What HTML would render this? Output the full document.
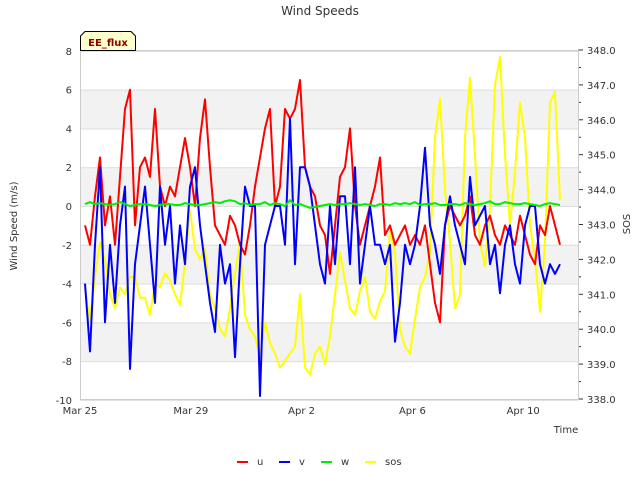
<!DOCTYPE html>
<html><head><meta charset="utf-8"><style>
body{margin:0;background:#fff;}
svg{display:block;font-family:"DejaVu Sans","Liberation Sans",sans-serif;}
</style></head><body>
<svg id="chart" width="640" height="480">
<text x="320" y="15" text-anchor="middle" font-size="12" fill="#333">Wind Speeds</text>
<g id="bands"></g>
<g id="axes"></g>
<g id="series"></g>
<rect x="80.5" y="50.5" width="498" height="349" fill="none" stroke="#ccc"/>
<g>
<path d="M80.5,50.5 V36 L85,31.5 H131 L135.5,36 V50.5 Z" fill="#ffffcc" stroke="#000"/>
<text x="108" y="46" text-anchor="middle" font-size="10" font-weight="bold" fill="#8b0000">EE_flux</text>
</g>
<text transform="translate(17,226) rotate(-90)" text-anchor="middle" font-size="10" fill="#333">Wind Speed (m/s)</text>
<text transform="translate(630,224) rotate(-90)" text-anchor="middle" font-size="10" fill="#333">SOS</text>
<text x="566" y="433" text-anchor="middle" font-size="10" fill="#333">Time</text>
<g id="legend"></g>
</svg>
<script>
const xTickLabels=["Mar 25","Mar 29","Apr 2","Apr 6","Apr 10"];
const xTickDays=[0,4,8,12,16];
const yTicks=[-10,-8,-6,-4,-2,0,2,4,6,8];
const y2Ticks=[338,339,340,341,342,343,344,345,346,347,348];
const startDay=0.18;
const stepDay=0.1805;
const uVals=[-1,-2,0.5,2.5,-1,0.5,-2,1.5,5,6,-1,2,2.5,1.5,5,1,0,1,0.5,2,3.5,2,0,3.5,5.5,2,-1,-1.5,-2,-0.5,-1,-2,-2.5,-1,1,2.5,4,5,0,1,5,4.5,5,6.5,2,1,0.5,-1,-1.5,-3.5,-1,1.5,2,4,0,-2,-1,0,1,2.5,-1.5,-1,-2,-1.5,-1,-2,-1.5,-2,-1,-3,-5,-6,-1,0,-0.5,-1,-0.5,0.5,-1.5,-2,-1,-0.5,-1.5,-2,-1,-1.5,-2,-0.5,-1.5,-2.5,-3,-1,-1.5,0,-1,-2];
const vVals=[-4,-7.5,-2,2,-6,-2,-5,-1,1,-8.4,-3,-1,1,-2,-5,1,-2,0,-4,-1,-3,1,2,-1,-3,-5,-6.5,-2,-4,-3,-7.8,-3,1,0,0,-9.8,-2,-1,0,0,-2,4.5,-3,2,2,1,-1,-3,-4,0,-3,0.5,0.5,-3,2,-4,-2,0,-2,-2,-3,-2,-7,-5,-2,-3,-2,0,3,-1,-2,-3.5,-1,0.5,-1,-2,-3,1.5,-1,-0.5,0,-3,-2,-4.5,-2,-1,-3,-4,-1,0,0,-3,-4,-3,-3.5,-3];
const wVals=[0.1,0.2,0.1,0.15,0.1,0.05,0.1,0.2,0.1,0,0.05,0.1,0.1,0.05,0,0.05,0.1,0.1,0.05,0.05,0.15,0.1,0.05,0.05,0.1,0.15,0.2,0.15,0.25,0.3,0.25,0.1,0.15,0.05,0.1,0.1,0.2,0.05,0.15,0.1,0,0.3,0.05,0.1,0,-0.1,-0.05,0,0.05,0.1,0.05,0.1,0.1,0.15,0.1,0.05,0.1,0.05,0,0.1,0.1,0.05,0.15,0.1,0.15,0.1,0.2,0.05,0.1,0.1,0.15,0.05,0.05,0.1,0.1,0.05,0.15,0.1,0.05,0.1,0.15,0.25,0.1,0.1,0.2,0.15,0.1,0.1,0.15,0.1,0.05,0,0.1,0.15,0.1,0.05];
const sosVals=[341.2,340.2,341.5,342.5,342.0,341.0,340.6,341.2,341.0,341.5,341.5,340.9,340.9,340.4,341.3,341.2,341.6,341.4,341.0,340.7,341.9,343.4,342.3,342.0,342.3,341.0,340.6,340.0,339.8,340.6,341.6,342.5,340.4,340.0,339.8,339.2,340.2,339.6,339.3,338.9,339.1,339.3,339.5,341.0,338.9,338.7,339.3,339.5,339.0,339.8,341.0,342.2,341.4,340.6,340.4,341.1,341.5,340.5,340.3,340.8,341.1,342.8,342.2,340.0,339.5,339.3,340.3,341.2,341.5,342.2,345.5,346.6,344.0,342.5,340.6,341.0,345.5,347.2,345.0,342.5,341.8,343.5,347.0,347.8,345.0,343.0,344.5,346.5,345.5,343.0,342.0,340.5,342.5,346.5,346.8,343.7];

const NS="http://www.w3.org/2000/svg";
const X0=80,X1=578,PX_DAY=27.7;
const xS=d=>X0+d*PX_DAY;
const yS=v=>206-v*19.39;
const y2S=v=>399-(v-338)*34.9;
function mk(tag,attrs,parent){const e=document.createElementNS(NS,tag);for(const k in attrs)e.setAttribute(k,attrs[k]);parent.appendChild(e);return e;}
const bands=document.getElementById('bands'),axes=document.getElementById('axes'),ser=document.getElementById('series'),leg=document.getElementById('legend');
[[4,6],[0,2],[-4,-2],[-8,-6]].forEach(b=>{const r=mk('rect',{x:X0,y:yS(b[1]),width:X1-X0,height:yS(b[0])-yS(b[1]),fill:'#f2f2f2'},bands);

});
yTicks.forEach(v=>{const l=mk('line',{x1:X0,x2:X1,y1:yS(v)+0.5,y2:yS(v)+0.5,stroke:'#ddd'},bands);


const t=mk('text',{x:72,y:yS(v)+4,'text-anchor':'end','font-size':10,fill:'#333'},axes);t.textContent=v;

});
y2Ticks.forEach(v=>{mk('line',{x1:X1,x2:X1+5,y1:y2S(v),y2:y2S(v),stroke:'#333'},axes);
if(v<348)mk('line',{x1:X1,x2:X1+3,y1:y2S(v+0.5),y2:y2S(v+0.5),stroke:'#333'},axes);
const t=mk('text',{x:587,y:y2S(v)+4,'font-size':10,fill:'#333'},axes);t.textContent=v.toFixed(1);

});
xTickDays.forEach((d,i)=>{const t=mk('text',{x:xS(d),y:414,'text-anchor':'middle','font-size':10,fill:'#333'},axes);t.textContent=xTickLabels[i];

});
function line(vals,sc,color,name){const pts=vals.map((v,i)=>xS(startDay+i*stepDay).toFixed(1)+','+sc(v).toFixed(1)).join(' ');
const p=mk('polyline',{points:pts,fill:'none',stroke:color,'stroke-width':2,'stroke-linejoin':'round'},ser);

}
line(sosVals,y2S,'#ffff00','sos-line');
line(uVals,yS,'#ff0000','u-line');
line(vVals,yS,'#0000ff','v-line');
line(wVals,yS,'#00ee00','w-line');
[['u','#ff0000',237],['v','#0000ff',279],['w','#00ee00',321],['sos','#ffff00',365]].forEach(e=>{
const g=mk('g',{},leg);


mk('line',{x1:e[2],x2:e[2]+11,y1:462,y2:462,stroke:e[1],'stroke-width':2},g);
const t=mk('text',{x:e[2]+20,y:465,'font-size':10,fill:'#333'},g);t.textContent=e[0];});
</script>
</body></html>
